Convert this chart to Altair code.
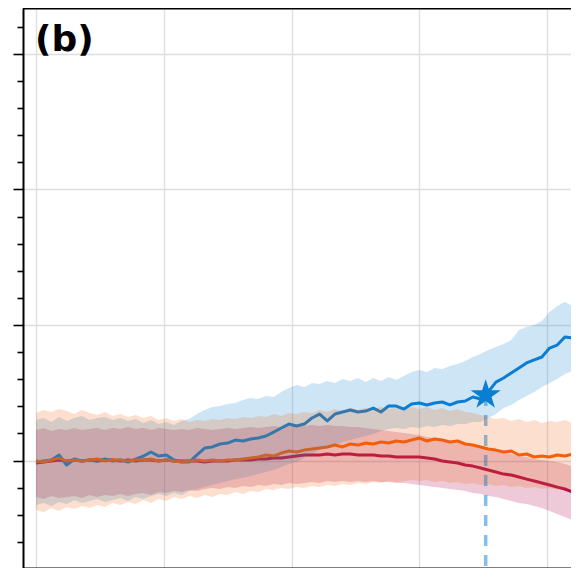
import altair as alt
import pandas as pd

# sample positions (x units; major tick every 50)
x = list(range(0, 211, 3))

blue = [-0.11, -0.04, 0.04, 0.41, -0.33, 0.11, -0.04, 0.04, -0.04, 0.11, -0.04, 0.04, -0.11, 0.11, 0.33, 0.63,
        0.33, 0.41, 0.04, -0.11, -0.11, 0.41, 0.92, 1.00, 1.22, 1.29, 1.51, 1.44, 1.59, 1.66, 1.81, 2.10, 2.40,
        2.69, 2.55, 2.69, 3.14, 3.43, 2.92, 3.43, 3.58, 3.73, 3.58, 3.65, 3.87, 3.58, 4.02, 4.02, 3.80, 4.17,
        4.24, 4.10, 4.24, 4.32, 4.10, 4.32, 4.39, 4.69, 4.54, 5.06, 5.79, 6.09, 6.46, 6.83, 7.20, 7.42, 7.64,
        8.30, 8.52, 9.11, 9.04]
blue_hi = [2.99, 3.14, 2.84, 3.21, 2.92, 3.14, 3.28, 2.99, 3.14, 3.21, 2.99, 3.14, 2.92, 3.06, 2.77, 2.99,
           2.69, 2.84, 2.62, 2.92, 3.06, 3.43, 3.73, 3.95, 4.02, 4.17, 4.24, 4.46, 4.61, 4.54, 4.76, 4.69, 5.06,
           5.35, 5.57, 5.42, 5.72, 5.65, 5.87, 5.72, 6.01, 5.87, 6.09, 5.79, 6.09, 5.87, 6.16, 5.94, 6.24, 6.53,
           6.68, 6.53, 6.83, 6.75, 6.97, 7.12, 7.34, 7.64, 7.86, 8.15, 8.38, 8.60, 8.89, 9.63, 9.85, 10.00,
           10.30, 10.96, 11.40, 11.70, 11.40]
blue_lo = [-3.28, -3.14, -3.36, -3.06, -3.21, -2.92, -3.14, -2.99, -2.84, -3.06, -2.92, -2.77, -2.99, -2.69,
           -2.84, -2.62, -2.47, -2.62, -2.40, -2.55, -2.25, -2.10, -1.96, -1.81, -1.66, -1.51, -1.37, -1.29,
           -1.14, -1.00, -0.85, -0.70, -0.48, -0.26, -0.11, 0.18, 0.48, 0.77, 0.92, 1.14, 1.37, 1.51, 1.66,
           1.81, 1.96, 2.18, 2.32, 2.40, 2.32, 2.47, 2.40, 2.55, 2.47, 2.62, 2.55, 2.69, 2.69, 2.84, 2.84, 3.14,
           3.43, 3.87, 4.10, 4.46, 4.76, 5.06, 5.42, 5.72, 6.01, 6.38, 6.61]

orange = [-0.04, -0.11, 0.04, 0.18, -0.04, 0.04, -0.04, 0.04, 0.11, -0.04, 0.04, 0.04, -0.04, 0.04, 0.04, 0.11,
          -0.04, 0.04, -0.04, -0.11, -0.04, 0.04, -0.04, 0.04, -0.04, 0.04, 0.04, 0.11, 0.18, 0.26, 0.41, 0.33,
          0.55, 0.70, 0.63, 0.77, 0.85, 0.92, 1.00, 1.14, 1.00, 1.22, 1.14, 1.29, 1.22, 1.37, 1.29, 1.44, 1.37,
          1.51, 1.66, 1.44, 1.59, 1.51, 1.37, 1.44, 1.22, 1.14, 1.00, 0.85, 0.77, 0.63, 0.70, 0.41, 0.48, 0.26,
          0.33, 0.26, 0.41, 0.33, 0.48]
orange_hi = [3.51, 3.73, 3.58, 3.80, 3.65, 3.43, 3.73, 3.51, 3.36, 3.58, 3.28, 3.43, 3.21, 3.36, 3.14, 3.28,
             2.99, 3.14, 2.92, 3.06, 2.84, 2.99, 2.92, 3.06, 2.99, 3.14, 3.06, 3.21, 3.14, 3.28, 3.21, 3.43,
             3.28, 3.51, 3.43, 3.58, 3.51, 3.73, 3.58, 3.80, 3.65, 3.87, 3.73, 3.87, 3.80, 3.95, 3.80, 3.87,
             3.73, 3.95, 3.80, 3.95, 3.73, 3.87, 3.65, 3.80, 3.58, 3.51, 3.36, 3.21, 3.06, 3.14, 2.92, 3.06,
             2.84, 2.99, 2.77, 2.92, 2.84, 2.99, 2.77]
orange_lo = [-3.65, -3.80, -3.51, -3.73, -3.43, -3.58, -3.36, -3.51, -3.28, -3.43, -3.14, -3.28, -3.06, -3.21,
             -2.92, -3.14, -2.84, -2.99, -2.69, -2.84, -2.62, -2.77, -2.55, -2.69, -2.47, -2.55, -2.32, -2.47,
             -2.25, -2.32, -2.10, -2.18, -2.03, -2.10, -1.96, -2.03, -1.88, -1.96, -1.81, -1.88, -1.73, -1.81,
             -1.66, -1.73, -1.59, -1.66, -1.51, -1.59, -1.51, -1.44, -1.51, -1.44, -1.59, -1.51, -1.66, -1.59,
             -1.73, -1.66, -1.81, -1.73, -1.88, -1.81, -1.96, -1.88, -2.03, -1.96, -2.10, -2.03, -2.18, -2.10,
             -2.25]

crimson = [-0.18, -0.11, -0.04, 0.04, -0.04, 0.04, -0.04, 0.04, -0.04, 0.04, 0.04, -0.04, 0.04, -0.04, 0.04,
           0.04, -0.04, 0.04, -0.04, -0.04, -0.04, -0.04, -0.11, -0.04, -0.04, -0.04, 0.04, 0.04, 0.04, 0.11,
           0.11, 0.18, 0.18, 0.26, 0.33, 0.41, 0.41, 0.41, 0.48, 0.41, 0.48, 0.48, 0.41, 0.41, 0.41, 0.33, 0.33,
           0.26, 0.26, 0.26, 0.26, 0.18, 0.11, -0.04, -0.11, -0.18, -0.33, -0.41, -0.55, -0.70, -0.85, -1.00,
           -1.07, -1.22, -1.37, -1.51, -1.66, -1.81, -1.96, -2.10, -2.32]
crimson_hi = [2.25, 2.40, 2.18, 2.32, 2.25, 2.40, 2.25, 2.32, 2.40, 2.25, 2.40, 2.32, 2.47, 2.32, 2.40, 2.25,
              2.40, 2.32, 2.25, 2.32, 2.25, 2.40, 2.32, 2.25, 2.32, 2.40, 2.32, 2.40, 2.47, 2.40, 2.47, 2.55,
              2.47, 2.55, 2.62, 2.55, 2.62, 2.55, 2.62, 2.55, 2.55, 2.47, 2.47, 2.40, 2.32, 2.25, 2.18, 2.10,
              2.03, 1.96, 1.88, 1.73, 1.66, 1.51, 1.44, 1.29, 1.22, 1.07, 1.00, 0.85, 0.70, 0.55, 0.48, 0.33,
              0.26, 0.11, 0.04, -0.04, -0.11, -0.26, -0.41]
crimson_lo = [-2.69, -2.84, -2.62, -2.77, -2.69, -2.62, -2.77, -2.55, -2.69, -2.55, -2.62, -2.47, -2.62, -2.47,
              -2.40, -2.55, -2.32, -2.40, -2.25, -2.32, -2.18, -2.25, -2.10, -2.03, -2.10, -1.96, -2.03, -1.88,
              -1.96, -1.81, -1.88, -1.73, -1.81, -1.66, -1.73, -1.66, -1.59, -1.66, -1.51, -1.59, -1.51, -1.59,
              -1.51, -1.59, -1.51, -1.59, -1.59, -1.66, -1.66, -1.73, -1.81, -1.88, -1.96, -2.03, -2.10, -2.18,
              -2.25, -2.40, -2.47, -2.62, -2.69, -2.84, -2.99, -3.14, -3.21, -3.36, -3.51, -3.73, -3.95, -4.17,
              -4.39]

star_x = [176]
star_y = [4.83]

x_ticks = list(range(0, 201, 10))
y_ticks = list(range(-6, 33, 2))

BLUE = "#0a7fd2"
ORANGE = "#f2600b"
CRIMSON = "#b10f4e"

X_DOMAIN = [-5.09, 209.39]
Y_DOMAIN = [-7.93, 33.39]

x_scale = alt.Scale(domain=X_DOMAIN, nice=False, zero=False)
y_scale = alt.Scale(domain=Y_DOMAIN, nice=False, zero=False)

x_axis = alt.Axis(
    values=x_ticks, labels=False, title=None,
    domainColor="black", domainWidth=2,
    tickColor="black", tickWidth=1.6,
    tickSize={"condition": {"test": "datum.value % 50 === 0", "value": 10}, "value": 6},
    grid=True, gridColor="#dedede", gridWidth=1.3,
    gridOpacity={"condition": {"test": "datum.value % 50 === 0", "value": 1}, "value": 0},
)
y_axis = alt.Axis(
    values=y_ticks, labels=False, title=None,
    domainColor="black", domainWidth=2,
    tickColor="black", tickWidth=1.6,
    tickSize={"condition": {"test": "datum.value % 10 === 0", "value": 10}, "value": 6},
    grid=True, gridColor="#dedede", gridWidth=1.3,
    gridOpacity={"condition": {"test": "datum.value % 10 === 0", "value": 1}, "value": 0},
)

df = pd.DataFrame({
    "x": x,
    "blue": blue, "blue_hi": blue_hi, "blue_lo": blue_lo,
    "orange": orange, "orange_hi": orange_hi, "orange_lo": orange_lo,
    "crimson": crimson, "crimson_hi": crimson_hi, "crimson_lo": crimson_lo,
})

base = alt.Chart(df)


def X():
    return alt.X("x:Q", scale=x_scale, axis=x_axis)


def line(col, color):
    return base.mark_line(color=color, strokeWidth=3, strokeJoin="round").encode(
        x=X(), y=alt.Y(f"{col}:Q", scale=y_scale, axis=y_axis)
    )


def band(col, color, op):
    return base.mark_area(color=color, opacity=op).encode(
        x=X(), y=alt.Y(f"{col}_lo:Q", scale=y_scale, axis=y_axis), y2=alt.Y2(f"{col}_hi:Q")
    )


star_df = pd.DataFrame({"x": star_x, "y": star_y})

marker_rule = alt.Chart(star_df).mark_rule(
    color=BLUE, opacity=0.5, strokeWidth=3.5, strokeDash=[11, 9]
).encode(
    x=X(), y=alt.Y("y:Q", scale=y_scale, axis=y_axis), y2=alt.datum(Y_DOMAIN[0])
)

STAR_PATH = ("M0,-1L0.2245,-0.309L0.951,-0.309L0.363,0.118L0.588,0.809L0,0.382"
             "L-0.588,0.809L-0.363,0.118L-0.951,-0.309L-0.2245,-0.309Z")
star = alt.Chart(star_df).mark_point(
    shape=STAR_PATH, filled=True, size=1000, color=BLUE, opacity=1, strokeWidth=0
).encode(x=X(), y=alt.Y("y:Q", scale=y_scale, axis=y_axis))

label = alt.Chart(pd.DataFrame({"t": ["(b)"]})).mark_text(
    font="DejaVu Sans", fontWeight="bold", fontSize=36, align="left", baseline="alphabetic", color="black"
).encode(text="t:N", x=alt.value(12), y=alt.value(43))

top_border = alt.Chart(pd.DataFrame({"t": [0]})).mark_rule(color="black", strokeWidth=2).encode(
    x=alt.value(0), x2=alt.value(548), y=alt.value(0.5)
)

chart = alt.layer(
    line("crimson", CRIMSON), band("crimson", CRIMSON, 0.22),
    line("blue", BLUE), line("orange", ORANGE),
    marker_rule,
    band("blue", BLUE, 0.2), band("orange", ORANGE, 0.2),
    star, label, top_border,
).properties(
    width=548, height=560,
    padding={"left": 15, "top": 0, "right": 0, "bottom": 0},
    autosize=alt.AutoSizeParams(type="none"),
).configure_view(stroke=None)

chart.save("out.html", embed_options={"renderer": "svg", "actions": False})
